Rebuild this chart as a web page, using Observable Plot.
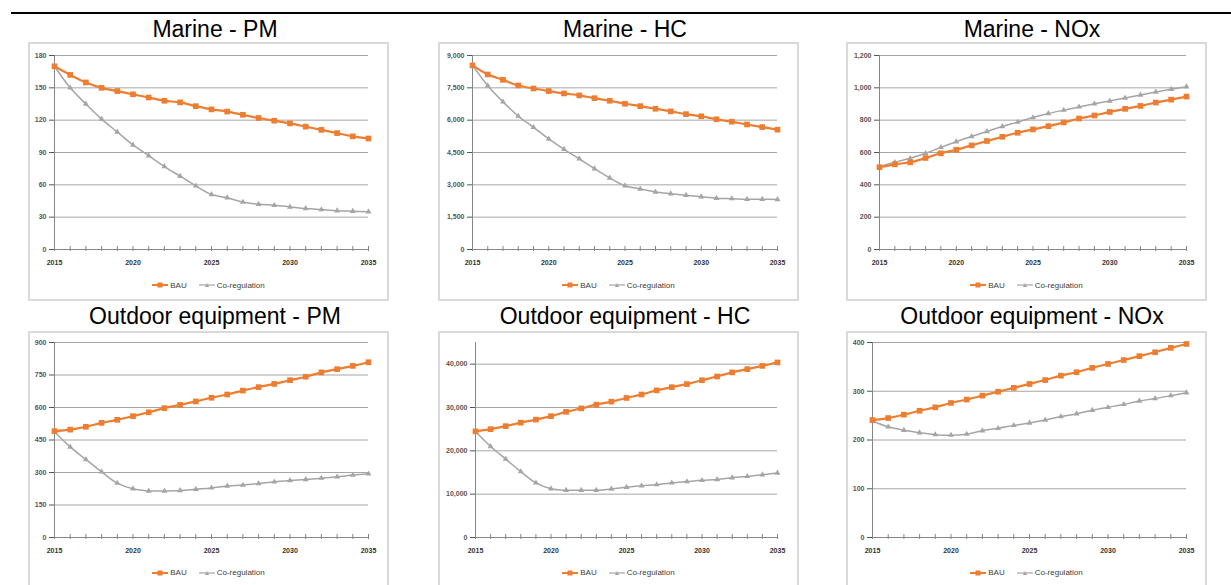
<!DOCTYPE html>
<html>
<head>
<meta charset="utf-8">
<script src="https://cdn.jsdelivr.net/npm/d3@7"></script>
<script src="https://cdn.jsdelivr.net/npm/@observablehq/plot@0.6"></script>
<style>
html,body{margin:0;padding:0;background:#fff;overflow:hidden;width:1231px;height:585px;}
body{position:relative;font-family:"Liberation Sans",Arial,sans-serif;}
.topline{position:absolute;left:11px;top:12px;width:1220px;height:2px;background:#000;}
.title{position:absolute;width:410px;text-align:center;font-size:23px;line-height:23px;color:#000;white-space:nowrap;}
.box{position:absolute;box-sizing:border-box;border:2px solid #d9d9d9;background:#fff;}
.plot{position:absolute;}
.legend{position:absolute;display:flex;justify-content:center;align-items:center;height:12px;font-size:8px;color:#404040;font-family:"Liberation Sans",Arial,sans-serif;}
.legend .item{display:flex;align-items:center;margin:0 6px;}
.legend svg{margin-right:2px;}
</style>
</head>
<body>
<div class="topline"></div>
<div id="root"></div>
<script>
// ---- Data ----
const years = [2015,2016,2017,2018,2019,2020,2021,2022,2023,2024,2025,2026,2027,2028,2029,2030,2031,2032,2033,2034,2035];
const labelYears = [2015,2020,2025,2030,2035];
const seriesNames = ["BAU","Co-regulation"];
const titles = ["Marine - PM","Marine - HC","Marine - NOx","Outdoor equipment - PM","Outdoor equipment - HC","Outdoor equipment - NOx"];

const marinePM_BAU   = [170,162,155,150,147,144,141,138,136.5,133,130,128,125,122,119.5,117,114,111,108,105,103];
const marinePM_CoReg = [170,150,135,121,109,97,87,77,68,59,51,48,44,42,41,39.5,38,37,36,35.5,35];
const marineHC_BAU   = [8540,8120,7870,7610,7470,7350,7240,7150,7020,6900,6760,6650,6530,6410,6280,6180,6040,5930,5800,5680,5560];
const marineHC_CoReg = [8540,7600,6850,6190,5670,5130,4650,4210,3750,3320,2960,2810,2670,2590,2520,2450,2380,2360,2330,2330,2320];
const marineNOx_BAU   = [509,527,539,566,595,617,644,671,697,722,743,763,786,810,829,851,870,888,909,927,946];
const marineNOx_CoReg = [513,539,564,595,632,667,699,730,761,788,816,841,862,882,901,919,937,956,974,991,1007];
const outdoorPM_BAU   = [491,498,511,529,543,560,578,597,612,628,645,660,678,694,709,726,742,762,777,792,809];
const outdoorPM_CoReg = [488,418,360,303,251,225,215,215,217,223,229,238,242,249,257,263,268,274,280,288,294];
const outdoorHC_BAU   = [24500,25000,25700,26500,27200,28000,29000,29800,30650,31350,32200,33000,33950,34700,35400,36300,37150,38100,38850,39600,40400];
const outdoorHC_CoReg = [24450,21000,18100,15200,12600,11250,10900,10900,10900,11200,11600,11950,12200,12600,12900,13200,13400,13800,14100,14500,14900];
const outdoorNOx_BAU   = [241,245,252,260,267,276,283,291,299,307,315,323,332,339,348,356,364,372,380,389,397];
const outdoorNOx_CoReg = [239,227,220,215,211,210,212,219,224,230,235,241,248,254,261,267,273,280,285,291,297];

const ticksMarinePM  = [0,30,60,90,120,150,180];
const ticksMarineHC  = [0,1500,3000,4500,6000,7500,9000];
const ticksMarineNOx = [0,200,400,600,800,1000,1200];
const ticksOutdoorPM  = [0,150,300,450,600,750,900];
const ticksOutdoorHC  = [0,10000,20000,30000,40000];
const ticksOutdoorNOx = [0,100,200,300,400];
const yMax = [180,9000,1200,900,45000,400];

const bauSeries = [marinePM_BAU,marineHC_BAU,marineNOx_BAU,outdoorPM_BAU,outdoorHC_BAU,outdoorNOx_BAU];
const coSeries  = [marinePM_CoReg,marineHC_CoReg,marineNOx_CoReg,outdoorPM_CoReg,outdoorHC_CoReg,outdoorNOx_CoReg];
const tickSets  = [ticksMarinePM,ticksMarineHC,ticksMarineNOx,ticksOutdoorPM,ticksOutdoorHC,ticksOutdoorNOx];

// ---- Layout ----
const BAU_COLOR = "#ed7d31", CO_COLOR = "#a5a5a5";
const colLeft = [29, 439, 847];
const cellLeft = [10, 420, 827];
const rowTop = [43, 332];
const titleTop = [18, 305];
const legendY = [285, 572.7];
const marginsTop = [12, 10];
const marginsLeft = [[25,33,32],[25,36,25]];
const marginsRight = [20,21,20];
const W = 359, H = 232;
const root = document.getElementById("root");

function legendHTML(){
  return `<div class="item"><svg width="16" height="8"><line x1="0" y1="4" x2="16" y2="4" stroke="${BAU_COLOR}" stroke-width="2"/><rect x="5.5" y="1.5" width="5" height="5" fill="${BAU_COLOR}"/></svg><span>${seriesNames[0]}</span></div>`+
         `<div class="item"><svg width="16" height="8"><line x1="0" y1="4" x2="16" y2="4" stroke="${CO_COLOR}" stroke-width="1.2"/><path d="M8,2 L10.2,6 L5.8,6 Z" fill="${CO_COLOR}"/></svg><span>${seriesNames[1]}</span></div>`;
}

for (let i = 0; i < 6; i++) {
  const r = Math.floor(i/3), c = i % 3;
  const data = [];
  years.forEach((y, k) => {
    data.push({year: y, value: coSeries[i][k], series: seriesNames[1]});
  });
  years.forEach((y, k) => {
    data.push({year: y, value: bauSeries[i][k], series: seriesNames[0]});
  });
  const co = data.filter(d => d.series === seriesNames[1]);
  const bau = data.filter(d => d.series === seriesNames[0]);
  const ticks = tickSets[i];

  // title
  const t = document.createElement("div");
  t.className = "title";
  t.style.left = cellLeft[c] + "px";
  t.style.top = titleTop[r] + "px";
  t.textContent = titles[i];
  root.appendChild(t);

  // box
  const b = document.createElement("div");
  b.className = "box";
  b.style.left = (colLeft[c]-1) + "px";
  b.style.top = (rowTop[r]-1) + "px";
  b.style.width = "361px";
  b.style.height = "259px";
  root.appendChild(b);

  const mt = marginsTop[r];
  const plot = Plot.plot({
    width: W, height: H,
    marginTop: mt,
    marginBottom: H - mt - (r === 0 ? 194 : 195),
    marginLeft: marginsLeft[r][c],
    marginRight: marginsRight[c],
    style: {background: "transparent", overflow: "visible", fontFamily: "Liberation Sans, Arial, sans-serif"},
    x: {domain: [2015, 2035], axis: null, label: null},
    y: {domain: [0, yMax[i]], axis: null, label: null},
    marks: [
      Plot.ruleY(ticks.filter(v => v > 0), {stroke: "#a6a6a6", strokeWidth: 1}),
      Plot.ruleY([0], {stroke: "#868686", strokeWidth: 1}),
      Plot.ruleX([2015], {stroke: "#868686", strokeWidth: 1}),
      Plot.axisY(ticks, {label: null, tickSize: 5, tickPadding: 3, tickFormat: d3.format(","), fontSize: 7, fontWeight: "bold", color: "#555"}),
      Plot.axisX(years, {label: null, tickSize: 5, dy: -3, tickFormat: () => "", color: "#868686"}),
      Plot.axisX(labelYears, {label: null, tickSize: 0, tickPadding: 11, tickFormat: d => String(d), fontSize: 7, fontWeight: "bold", color: "#333"}),
      Plot.line(co, {x: "year", y: "value", curve: "catmull-rom", stroke: CO_COLOR, strokeWidth: 1.5}),
      Plot.dot(co, {x: "year", y: "value", symbol: "triangle", r: 2.2, fill: CO_COLOR}),
      Plot.line(bau, {x: "year", y: "value", curve: "catmull-rom", stroke: BAU_COLOR, strokeWidth: 2.2}),
      Plot.dot(bau, {x: "year", y: "value", symbol: "square", r: 3.2, fill: BAU_COLOR})
    ]
  });
  plot.classList.add("plot");
  plot.style.left = colLeft[c] + "px";
  plot.style.top = rowTop[r] + "px";
  plot.style.position = "absolute";
  root.appendChild(plot);

  // legend
  const lg = document.createElement("div");
  lg.className = "legend";
  lg.style.left = colLeft[c] + "px";
  lg.style.width = W + "px";
  lg.style.top = (legendY[r] - 6) + "px";
  lg.innerHTML = legendHTML();
  root.appendChild(lg);
}
</script>
</body>
</html>
